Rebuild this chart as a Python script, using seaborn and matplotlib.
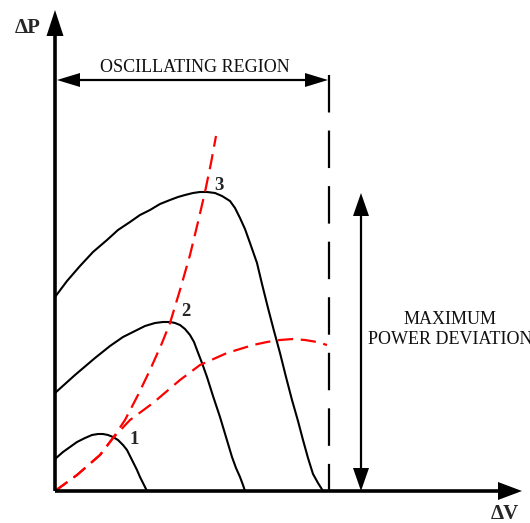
import matplotlib
matplotlib.use("Agg")
import matplotlib.pyplot as plt
import numpy as np
import pandas as pd
import seaborn as sns

# ---- data (ΔV, ΔP in drawing units, origin at axes corner) ----
curve1_dv = [0, 8, 15, 22, 30, 37, 43, 48, 53, 58, 63, 68, 72, 75, 78, 82, 85, 88, 90, 92]
curve1_dp = [32, 39, 44, 49, 53, 56, 57, 57, 56, 54, 51, 46, 41, 35, 29, 21, 14, 8, 4, 0]

curve2_dv = [0, 20, 40, 55, 68, 80, 90, 100, 108, 115, 120, 125, 130, 135, 139, 142,
             147, 152, 158, 165, 171, 177, 181, 185, 188, 190]
curve2_dp = [98, 116, 133, 145, 154, 160, 165, 168, 169, 169, 168, 166, 162, 156, 149, 141,
             128, 114, 95, 74, 54, 34, 23, 14, 6, 0]

curve3_dv = [0, 12, 25, 38, 52, 63, 75, 85, 95, 105, 115, 123, 130, 138, 145, 152, 160,
             167, 175, 180, 185, 190, 195, 202, 207, 213, 219, 225, 231, 237, 243, 248,
             253, 258, 263, 268]
curve3_dp = [194, 210, 225, 239, 251, 261, 269, 276, 281, 287, 291, 294, 296, 298, 299, 299, 298,
             295, 290, 283, 273, 262, 248, 228, 207, 183, 160, 138, 114, 91, 70, 51,
             33, 17, 8, 0]

steep_dv = [0, 22, 45, 58, 70, 83, 95, 107, 115, 125, 135, 143, 150, 156, 161]
steep_dp = [0, 16, 36, 53, 71, 96, 121, 148, 168, 201, 236, 269, 299, 328, 355]

shallow_dv = [0, 22, 45, 58, 75, 98, 125, 145, 172, 198, 212, 225, 238, 250, 262, 272]
shallow_dp = [0, 16, 36, 53, 71, 88, 111, 126, 138, 146, 149, 151, 152, 151, 149, 146]

limit_dv = [274, 274]
limit_dp = [416, 0]

point_labels = ["1", "2", "3"]
point_label_dv = [79, 131, 164]
point_label_dp = [51, 179, 306]

sns.set_theme(style="white")
plt.rcParams["font.family"] = ["Liberation Serif", "DejaVu Serif"]
plt.rcParams["lines.scale_dashes"] = False

fig = plt.figure(figsize=(5.30, 5.23), dpi=100)
ax = fig.add_axes([0, 0, 1, 1])
ax.set_xlim(-55, 475)
ax.set_ylim(-32, 491)
ax.axis("off")

LW = 1.5
for dv, dp in [(curve1_dv, curve1_dp), (curve2_dv, curve2_dp), (curve3_dv, curve3_dp)]:
    df = pd.DataFrame({"dv": dv, "dp": dp})
    sns.lineplot(data=df, x="dv", y="dp", sort=False, estimator=None, ax=ax,
                 color="black", linewidth=LW, solid_joinstyle="round")

for dv, dp in [(steep_dv, steep_dp), (shallow_dv, shallow_dp)]:
    df = pd.DataFrame({"dv": dv, "dp": dp})
    sns.lineplot(data=df, x="dv", y="dp", sort=False, estimator=None, ax=ax,
                 color="#ff0000", linewidth=1.6, linestyle=(0, (11, 5.5)))

df = pd.DataFrame({"dv": limit_dv, "dp": limit_dp})
sns.lineplot(data=df, x="dv", y="dp", sort=False, estimator=None, ax=ax,
             color="black", linewidth=1.6, linestyle=(0, (27, 13)))


def head(tip, direction, length, width):
    d = np.array(direction, dtype=float)
    d = d / np.linalg.norm(d)
    p = np.array([-d[1], d[0]])
    t = np.array(tip, dtype=float)
    b = t - d * length
    pts = np.array([t, b + p * width / 2, b - p * width / 2])
    ax.fill(pts[:, 0], pts[:, 1], color="black", lw=0, zorder=5)


# axes
ax.plot([0, 0], [0, 460], color="black", lw=2.6, solid_capstyle="butt", zorder=4)
ax.plot([0, 445], [0, 0], color="black", lw=2.6, solid_capstyle="butt", zorder=4)
head((0, 481), (0, 1), 26, 17)
head((467, 0), (1, 0), 24, 18)

# oscillating region arrow
ax.plot([10, 262], [411, 411], color="black", lw=1.6, zorder=4)
head((2, 411), (-1, 0), 23, 14)
head((273, 411), (1, 0), 23, 14)

# maximum power deviation arrow
ax.plot([306, 306], [12, 288], color="black", lw=1.6, zorder=4)
head((306, 298), (0, 1), 23, 16)
head((306, 0), (0, -1), 23, 16)

# texts
ax.text(140, 424, "OSCILLATING REGION", ha="center", va="center", fontsize=13, color="#111111")
ax.text(395, 172, "MAXIMUM", ha="center", va="center", fontsize=13, color="#111111")
ax.text(395, 152, "POWER DEVIATION", ha="center", va="center", fontsize=13, color="#111111")
ax.text(-27, 463, "ΔP", ha="center", va="center", fontsize=15, fontweight="bold")
ax.text(450, -23, "ΔV", ha="center", va="center", fontsize=15, fontweight="bold")
for lab, x, y in zip(point_labels, point_label_dv, point_label_dp):
    ax.text(x, y, lab, ha="center", va="center", fontsize=13.5, fontweight="bold")

fig.savefig("out.png", dpi=100)
